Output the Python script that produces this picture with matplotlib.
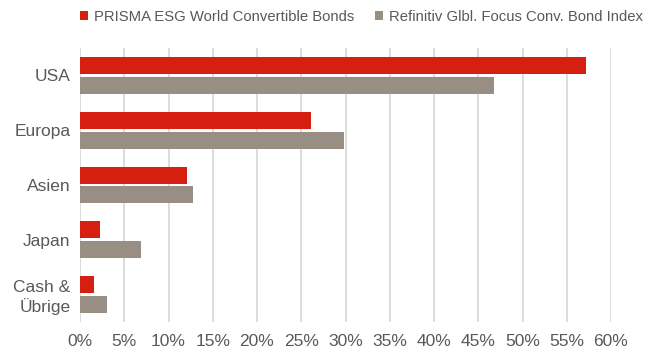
import matplotlib.pyplot as plt
from matplotlib.ticker import PercentFormatter, MultipleLocator
import numpy as np

plt.rcParams['font.family'] = ['Liberation Sans', 'DejaVu Sans']

CATEGORIES = ['USA', 'Europa', 'Asien', 'Japan', 'Cash &\nÜbrige']
FUND = [57.2, 26.1, 12.1, 2.3, 1.6]
INDEX = [46.8, 29.8, 12.8, 6.9, 3.1]
LABELS = ['PRISMA ESG World Convertible Bonds', 'Refinitiv Glbl. Focus Conv. Bond Index']

RED = '#D41F11'
GREY = '#988E84'
TEXT = '#595959'


def main():
    fig = plt.figure(figsize=(6.51, 3.53), dpi=100)
    ax = fig.add_axes([80 / 651, 1 - 322 / 353, 531 / 651, 274 / 353])

    y = np.arange(len(CATEGORIES))
    h = 0.31
    ax.barh(y - 0.18, FUND, height=h, color=RED, label=LABELS[0], zorder=3)
    ax.barh(y + 0.18, INDEX, height=h, color=GREY, label=LABELS[1], zorder=3)

    ax.set_ylim(len(CATEGORIES) - 0.5, -0.5)
    ax.set_xlim(0, 60)
    ax.set_yticks(y)
    ax.set_yticklabels(CATEGORIES, ha='right', multialignment='right')
    ax.xaxis.set_major_locator(MultipleLocator(5))
    ax.xaxis.set_major_formatter(PercentFormatter(decimals=0))
    ax.grid(axis='x', color='#D9D9D9', linewidth=1.3, zorder=0)
    ax.tick_params(length=0, labelsize=12.5, colors=TEXT)
    ax.tick_params(axis='x', pad=8.5)
    ax.tick_params(axis='y', pad=6.7)
    for s in ax.spines.values():
        s.set_visible(False)

    fig.legend(loc='center right', bbox_to_anchor=(643 / 651, 1 - 17 / 353), ncol=2,
               frameon=False, fontsize=10.7, labelcolor=TEXT, borderpad=0,
               borderaxespad=0, handlelength=0.55, handleheight=0.55,
               handletextpad=0.4, columnspacing=1.4)

    fig.savefig('out.png', dpi=100)


if __name__ == '__main__':
    main()
